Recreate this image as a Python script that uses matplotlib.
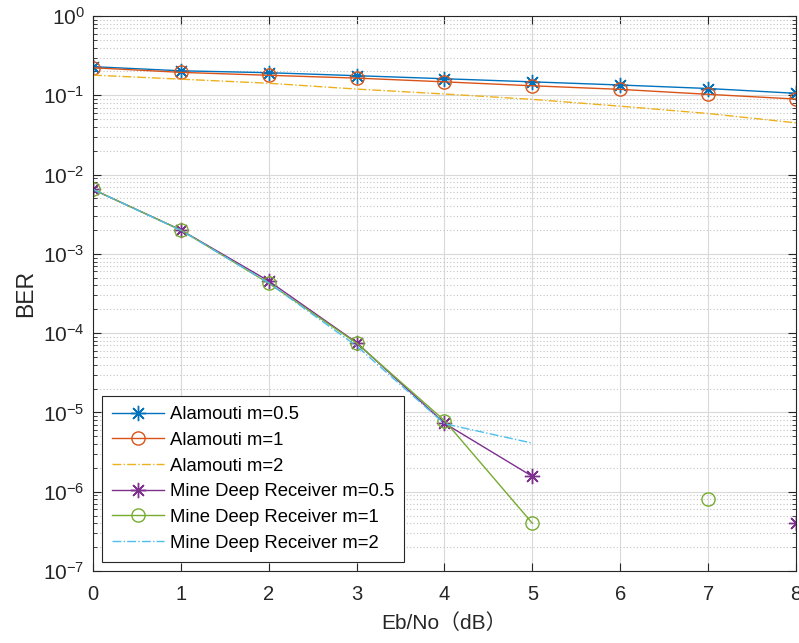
import numpy as np
import matplotlib
matplotlib.use('Agg')
import matplotlib.pyplot as plt
from matplotlib.ticker import LogLocator, NullFormatter

plt.rcParams['font.family'] = ['Liberation Sans', 'Noto Sans CJK SC', 'DejaVu Sans']
plt.rcParams['mathtext.default'] = 'regular'

# Eb/No (dB)
snr = [0, 1, 2, 3, 4, 5, 6, 7, 8]

# BER curves (nan = point not plotted)
alam_05 = [0.230, 0.204, 0.193, 0.177, 0.162, 0.148, 0.135, 0.122, 0.106]
alam_1 = [0.223, 0.195, 0.179, 0.165, 0.148, 0.132, 0.119, 0.103, 0.0898]
alam_2 = [0.180, 0.160, 0.142, 0.120, 0.104, 0.089, 0.073, 0.059, 0.045]
mine_05 = [6.5e-3, 2.0e-3, 4.55e-4, 7.6e-5, 7.3e-6, 1.56e-6, np.nan, np.nan, 4.0e-7]
mine_1 = [6.5e-3, 2.0e-3, 4.26e-4, 7.5e-5, 7.9e-6, 4.0e-7, np.nan, 8.1e-7, np.nan]
mine_2 = [6.5e-3, 1.98e-3, 4.3e-4, 6.9e-5, 7.2e-6, 4.1e-6, np.nan, np.nan, np.nan]

labels = ['Alamouti m=0.5', 'Alamouti m=1', 'Alamouti m=2',
          'Mine Deep Receiver m=0.5', 'Mine Deep Receiver m=1', 'Mine Deep Receiver m=2']

star = (8, 2, 0)  # matlab-like asterisk

fig = plt.figure(figsize=(7.99, 6.43), dpi=100)
ax = fig.add_axes([0.1164, 0.112, 0.8798, 0.863])

ax.semilogy(snr, alam_05, '-', marker=star, color='#0072BD', lw=1.0, ms=11, mew=1.0, label=labels[0])
ax.semilogy(snr, alam_1, '-o', color='#D95319', lw=1.0, ms=9.5, mfc='none', label=labels[1])
ax.semilogy(snr, alam_2, '-.', color='#EDB120', lw=1.0, label=labels[2])
ax.semilogy(snr, mine_05, '-', marker=star, color='#7E2F8E', lw=1.0, ms=11, mew=1.0, label=labels[3])
ax.semilogy(snr, mine_1, '-o', color='#77AC30', lw=1.0, ms=9.5, mfc='none', label=labels[4])
ax.semilogy(snr, mine_2, '-.', color='#4DBEEE', lw=1.0, label=labels[5])

ax.set_xlim(0, 8)
ax.set_ylim(1e-7, 1)
ax.set_xticks(range(0, 9))
ax.yaxis.set_major_locator(LogLocator(base=10, numticks=20))
ax.yaxis.set_minor_locator(LogLocator(base=10, subs=np.arange(2, 10), numticks=20))
ax.yaxis.set_minor_formatter(NullFormatter())

ax.grid(True, which='major', color='#d9d9d9', lw=0.8)
ax.grid(True, which='minor', axis='y', color='#c4c4c4', lw=0.8, ls=(0, (1, 2)))
ax.set_axisbelow(True)

ax.tick_params(which='both', direction='in', top=True, right=True, colors='#262626',
               labelcolor='#262626')
ax.tick_params(axis='x', labelsize=14.5, pad=10)
ax.tick_params(axis='y', labelsize=15, pad=6)
ax.tick_params(which='major', length=6)
ax.tick_params(which='minor', length=3)
for sp in ax.spines.values():
    sp.set_color('#262626')
    sp.set_linewidth(0.8)

ax.set_xlabel('Eb/No（dB）', fontsize=15, color='#262626', labelpad=7)
ax.set_ylabel('BER', fontsize=16.5, color='#262626', labelpad=4)

leg = ax.legend(loc='lower left', fontsize=13.3, fancybox=False, framealpha=1,
                edgecolor='#262626', handlelength=2.8, handletextpad=0.3,
                borderaxespad=0.5, labelspacing=0.47, borderpad=0.55)
leg.get_frame().set_linewidth(0.8)

fig.savefig('out.png', dpi=100)
